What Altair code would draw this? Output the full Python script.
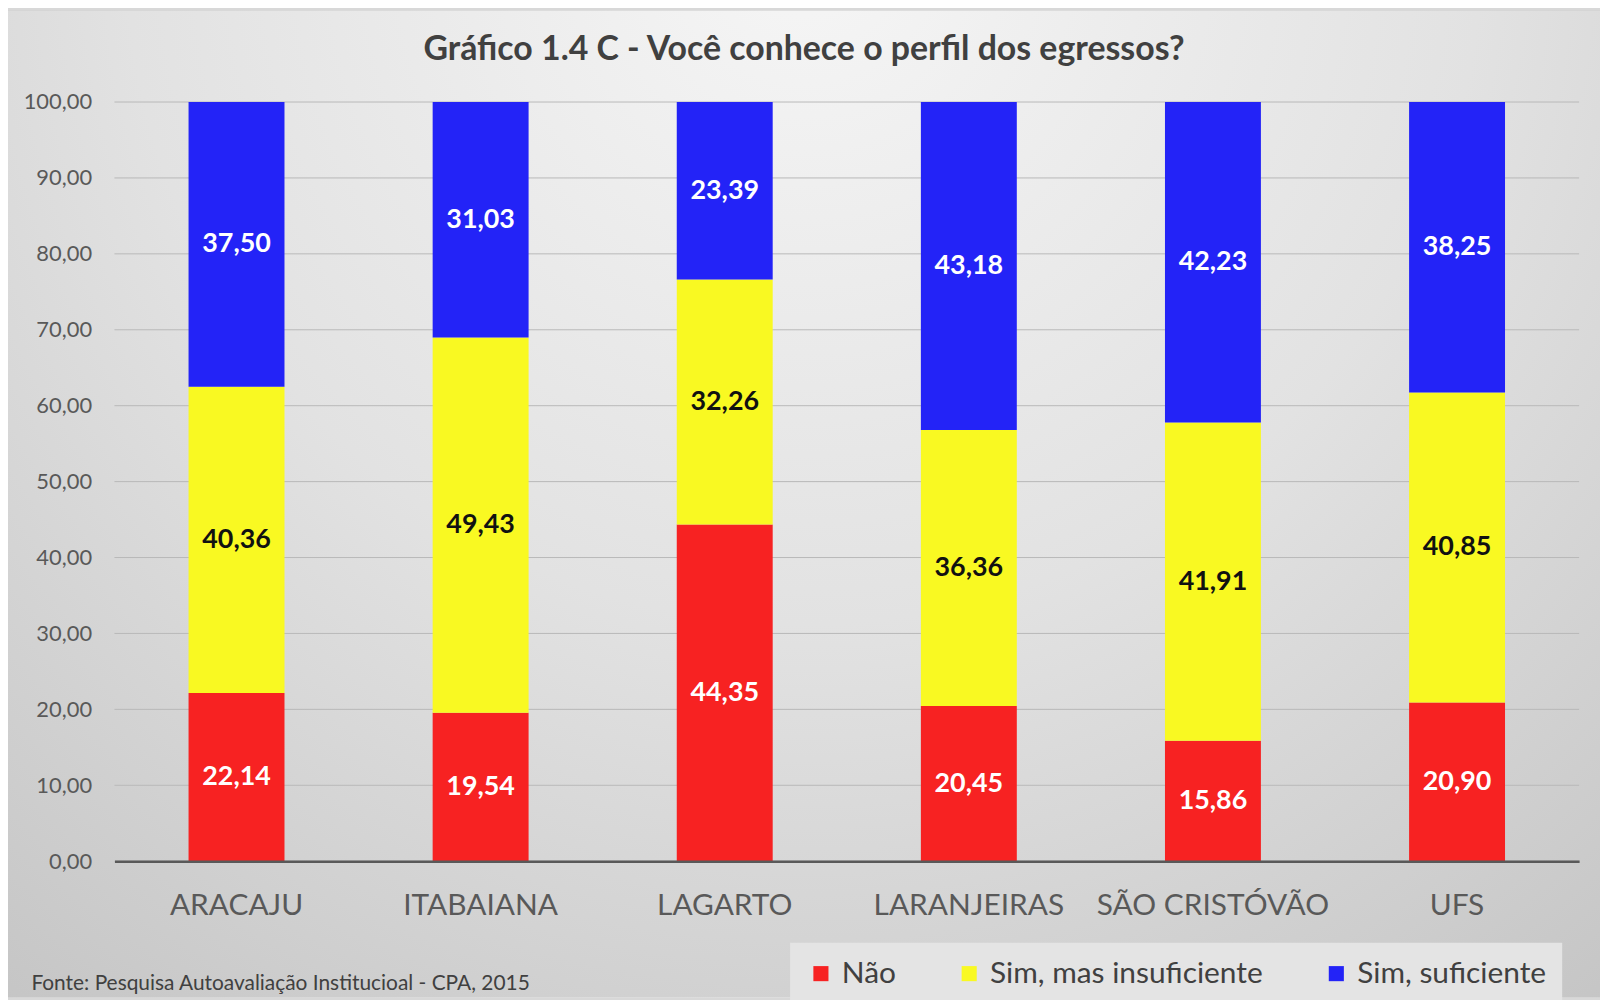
import altair as alt
import pandas as pd

# ---- data ----
campi = ["ARACAJU", "ITABAIANA", "LAGARTO", "LARANJEIRAS", "SÃO CRISTÓVÃO", "UFS"]
respostas = ["Não", "Sim, mas insuficiente", "Sim, suficiente"]
nao = [22.14, 19.54, 44.35, 20.45, 15.86, 20.90]
sim_insuf = [40.36, 49.43, 32.26, 36.36, 41.91, 40.85]
sim_suf = [37.50, 31.03, 23.39, 43.18, 42.23, 38.25]
y_ticks = [0, 10, 20, 30, 40, 50, 60, 70, 80, 90, 100]
cores = ["#F72222", "#F9F922", "#2323F7"]
titulo = "Gráfico 1.4 C - Você conhece o perfil dos egressos?"
fonte = "Fonte: Pesquisa Autoavaliação Institucioal - CPA, 2015"

rows = []
for serie, (resp, vals) in enumerate(zip(respostas, [nao, sim_insuf, sim_suf])):
    for c, v in zip(campi, vals):
        rows.append({"campus": c, "resposta": resp, "valor": v, "ordem": serie})
df = pd.DataFrame(rows)

W, H = 1472, 763
PL, PT, PR, PB = 107, 92, 21, 137
FONT = "Lato"

ysc = alt.Scale(domain=[0, 100], nice=False)
xsc = alt.Scale(domain=campi, paddingInner=0.607, paddingOuter=0.3035)

y_axis = alt.Axis(title=None, values=y_ticks, grid=False, domain=False, ticks=False,
                  labelExpr="replace(format(datum.value, '.2f'), '.', ',')",
                  labelFont=FONT, labelFontSize=22, labelColor="#595959",
                  labelPadding=23, zindex=1)

# background (decorative gradient)
bg = alt.Chart(alt.Data(values=[{}])).mark_rect(
    fill=alt.RadialGradient(
        gradient="radial",
        x1=0.5, y1=0.15, r1=0.0,
        x2=0.5, y2=0.15, r2=0.85,
        stops=[alt.GradientStop(color="#f6f6f6", offset=0.0),
               alt.GradientStop(color="#e2e2e2", offset=0.5),
               alt.GradientStop(color="#c4c4c4", offset=1.0)],
    )
).encode(x=alt.value(-PL), x2=alt.value(W + PR), y=alt.value(-PT), y2=alt.value(H + PB))

grid = alt.Chart(pd.DataFrame({"t": y_ticks})).mark_rule(color="#b8b8b8", strokeWidth=1).encode(
    y=alt.Y("t:Q", scale=ysc, axis=y_axis)
)

bars = alt.Chart(df).mark_bar().encode(
    x=alt.X("campus:N", sort=campi, scale=xsc,
            axis=alt.Axis(title=fonte, titleAnchor="start", titleX=-84, titleY=123,
                          titleBaseline="middle", titleFont=FONT, titleFontSize=21,
                          titleFontWeight="normal", titleColor="#404040", titleLimit=0,
                          labelAngle=0, labelFont=FONT, labelFontSize=30, labelColor="#595959",
                          labelPadding=30, labelLimit=0, ticks=False, domain=True,
                          domainColor="#595959", domainWidth=2.5, grid=False, zindex=1)),
    y=alt.Y("valor:Q", stack="zero", scale=ysc, axis=y_axis),
    color=alt.Color("resposta:N", scale=alt.Scale(domain=respostas, range=cores),
                    legend=alt.Legend(title=None, orient="none", legendX=679, legendY=845,
                                      direction="horizontal", symbolType="square",
                                      symbolSize=230, symbolStrokeWidth=0,
                                      labelFont=FONT, labelFontSize=30, labelColor="#404040",
                                      labelLimit=0, labelOffset=6, columnPadding=58,
                                      padding=16, fillColor="#e4e4e4")),
    order=alt.Order("ordem:Q"),
)

labels = alt.Chart(df).transform_stack(
    stack="valor", groupby=["campus"], sort=[alt.SortField("ordem")], as_=["y0", "y1"]
).transform_calculate(
    mid="(datum.y0 + datum.y1) / 2",
    rotulo="replace(format(datum.valor, '.2f'), '.', ',')",
    cor="datum.resposta == 'Sim, mas insuficiente' ? '#111111' : '#ffffff'",
).mark_text(font=FONT, fontSize=27, fontWeight="bold", baseline="middle").encode(
    x=alt.X("campus:N", sort=campi, scale=xsc),
    y=alt.Y("mid:Q", scale=ysc, axis=y_axis),
    text="rotulo:N",
    fill=alt.Fill("cor:N", scale=None),
)

chart = alt.layer(bg, grid, bars, labels).properties(
    width=W, height=H,
    title=alt.TitleParams(titulo, font=FONT, fontSize=34, fontWeight="bold", color="#404040",
                          anchor="middle", dx=-43, offset=-57),
    autosize=alt.AutoSizeParams(type="none"),
    padding={"left": PL, "top": PT, "right": PR, "bottom": PB},
).configure_view(stroke=None).configure(background="#d8d8d8")

chart.save("out.html", embed_options={"renderer": "svg", "actions": False})
